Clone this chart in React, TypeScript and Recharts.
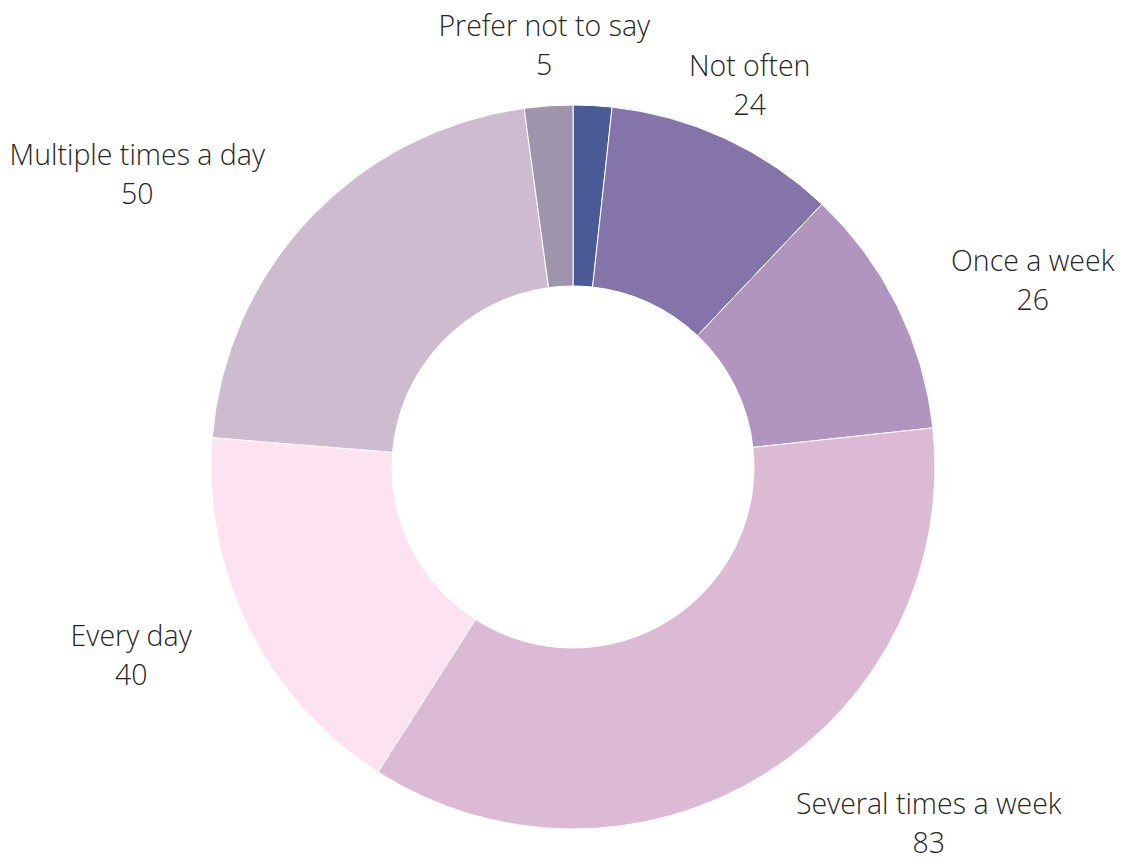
import React from 'react';
import { PieChart, Pie, Cell } from 'recharts';

// slices clockwise from 12 o'clock
const categories = [
  'Other',
  'Not often',
  'Once a week',
  'Several times a week',
  'Every day',
  'Multiple times a day',
  'Prefer not to say',
];
const counts = [4, 24, 26, 83, 40, 50, 5];
const colors = ['#4a5a96', '#8474aa', '#b195bf', '#dcbad6', '#fde3f1', '#cfbbcf', '#9e94ab'];
const unlabelled = ['Other'];
// small manual label tweaks (px), same order as categories
const labelNudge = [
  [0, 0],
  [-29, 9],
  [9, 5],
  [59, -8],
  [-3, -2],
  [-27, 4],
  [8, 8],
];

const data = categories.map((name, i) => ({ name, value: counts[i] }));

const RAD = Math.PI / 180;
const FONT_SIZE = 28.5;
const LINE_GAP = 39;
const LABEL_RADIUS = 430;

const renderLabel = (props: any) => {
  const { cx, cy, midAngle, name, value } = props;
  if (unlabelled.includes(name)) return null;
  const idx = categories.indexOf(name);
  const ux = Math.cos(-midAngle * RAD);
  const uy = Math.sin(-midAngle * RAD);
  const lines = [name, String(value)];
  // push the label sideways by half its (approximate) width so it clears the ring
  const halfW = Math.max(...lines.map((l) => l.length)) * FONT_SIZE * 0.2333;
  const [nx, ny] = labelNudge[idx] || [0, 0];
  const x = cx + LABEL_RADIUS * ux + halfW * ux + nx;
  const y = cy + LABEL_RADIUS * uy + ny;
  return (
    <text
      x={x}
      y={y - 10}
      textAnchor="middle"
      fill="#262626"
      fontFamily="'Open Sans', sans-serif"
      fontWeight={300}
      fontSize={FONT_SIZE}
    >
      <tspan x={x} dy={0}>{lines[0]}</tspan>
      <tspan x={x} dy={LINE_GAP}>{lines[1]}</tspan>
    </text>
  );
};

export default function App() {
  return (
    <div style={{ position: 'absolute', left: 0, top: 0, background: '#fff' }}>
      <PieChart width={1121} height={861} margin={{ top: 0, right: 0, bottom: 0, left: 0 }}>
        <Pie
          data={data}
          dataKey="value"
          nameKey="name"
          cx={573}
          cy={467}
          innerRadius={181}
          outerRadius={362}
          startAngle={90}
          endAngle={-270}
          stroke="#ffffff"
          strokeWidth={1}
          label={renderLabel}
          labelLine={false}
          isAnimationActive={false}
        >
          {data.map((d, i) => (
            <Cell key={d.name} fill={colors[i]} />
          ))}
        </Pie>
      </PieChart>
    </div>
  );
}
